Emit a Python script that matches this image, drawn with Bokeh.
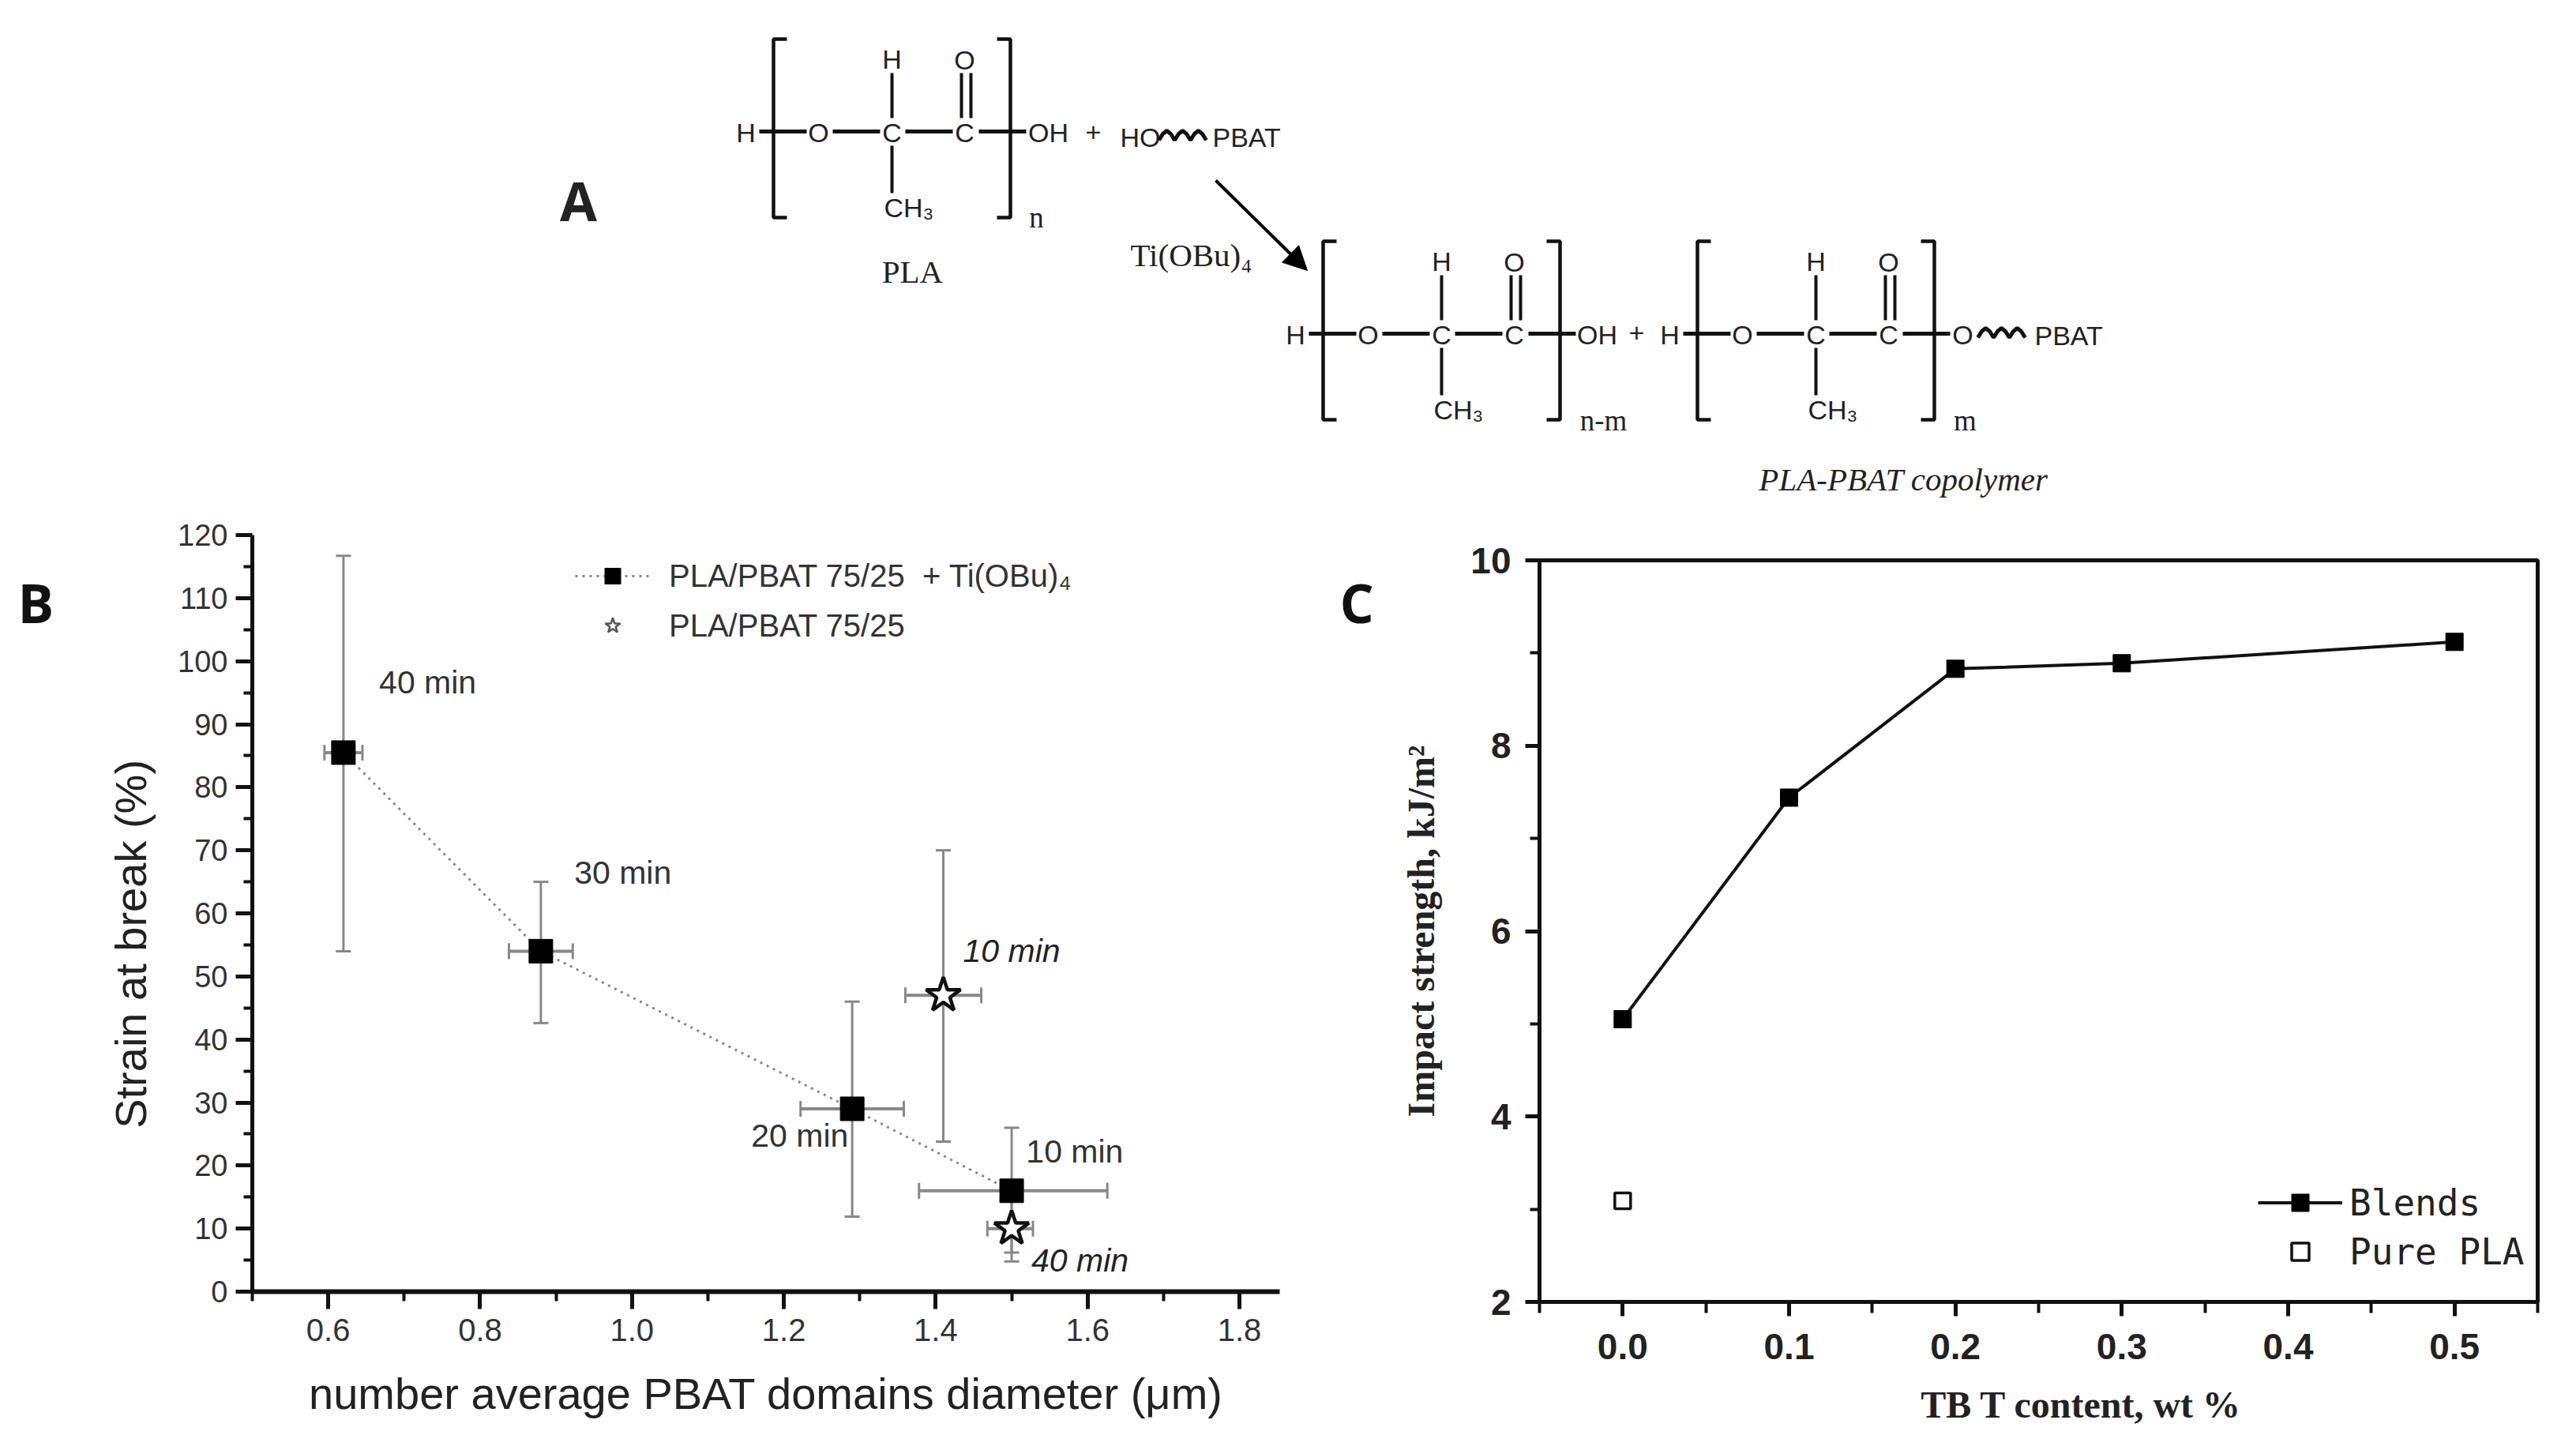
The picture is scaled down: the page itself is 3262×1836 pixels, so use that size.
from bokeh.core.properties import value
from bokeh.embed import file_html
from bokeh.layouts import column, row
from bokeh.models import Arrow, ColumnDataSource, FixedTicker, Legend, LegendItem, NormalHead, Range1d, TeeHead, Whisker
from bokeh.plotting import figure
from bokeh.resources import INLINE

# panel B
B_SQ_X = [0.62, 0.88, 1.29, 1.50]
B_SQ_Y = [85.5, 54.0, 29.0, 16.0]
B_SQ_Y_LOW = [54.0, 42.6, 11.9, 6.2]
B_SQ_Y_HIGH = [116.7, 65.0, 46.0, 26.0]
B_SQ_X_LOW = [0.595, 0.838, 1.222, 1.378]
B_SQ_X_HIGH = [0.645, 0.922, 1.358, 1.626]
B_SQ_LABELS = ["40 min", "30 min", "20 min", "10 min"]
B_SQ_LABEL_X = [0.667, 0.924, 1.157, 1.519]
B_SQ_LABEL_Y = [96.7, 66.4, 24.7, 22.2]

B_ST_X = [1.41, 1.50]
B_ST_Y = [47.0, 10.0]
B_ST_Y_LOW = [23.8, 4.8]
B_ST_Y_HIGH = [70.0, 15.0]
B_ST_X_LOW = [1.36, 1.468]
B_ST_X_HIGH = [1.46, 1.528]
B_ST_LABELS = ["10 min", "40 min"]
B_ST_LABEL_X = [1.436, 1.526]
B_ST_LABEL_Y = [54.1, 4.9]

B_X_TICKS = [0.6, 0.8, 1.0, 1.2, 1.4, 1.6, 1.8]
B_X_MINOR = [0.5, 0.7, 0.9, 1.1, 1.3, 1.5, 1.7]
B_Y_TICKS = list(range(0, 121, 10))
B_Y_MINOR = list(range(5, 120, 10))

# panel C
C_X = [0.0, 0.1, 0.2, 0.3, 0.5]
C_Y = [5.05, 7.44, 8.83, 8.89, 9.12]
C_PLA_X = [0.0]
C_PLA_Y = [3.09]
C_X_TICKS = [0.0, 0.1, 0.2, 0.3, 0.4, 0.5]
C_X_MINOR = [-0.05, 0.05, 0.15, 0.25, 0.35, 0.45, 0.55]
C_Y_TICKS = [2, 4, 6, 8, 10]
C_Y_MINOR = [3, 5, 7, 9]

# reaction scheme, drawn in picture pixels
WAVE_DX = [0, 5, 10, 15, 20, 25, 30, 35, 40, 45, 50, 55, 60]
WAVE_DY = [5, -3, -7, -3, 5, -3, -7, -3, 5, -3, -7, -3, 5]


def tick_labels(ticks):
    return {t: f"{t:.1f}" for t in ticks}


# ---------- scheme ----------
A = figure(width=3262, height=640, x_range=Range1d(0, 3262), y_range=Range1d(640, 0),
           x_axis_location=None, y_axis_location=None, toolbar_location=None,
           output_backend="svg", min_border=0, outline_line_color=None, frame_align=False)
A.grid.visible = False


def txt(x, y, s, size=34, font="Liberation Sans", style="normal", align="center"):
    A.text(x=[x], y=[y], text=[s], text_font=value(font), text_font_size=f"{size}px",
           text_font_style=style, text_align=align, text_baseline="middle", text_color="#222222")


def bond(xs, ys, width=4):
    A.line(x=xs, y=ys, line_color="#111111", line_width=width)


def bracket(x, top, bottom, tick):
    A.line(x=[x + tick, x, x, x + tick], y=[top, top, bottom, bottom], line_color="#111111", line_width=4.5)


def unit(dx, dy):
    """one PLA repeat unit, x of the first C sits at 1133+dx"""
    bond([965 + dx, 1025 + dx], [167 + dy, 167 + dy], 5)
    bond([1058 + dx, 1118 + dx], [167 + dy, 167 + dy], 5)
    bond([1150 + dx, 1210 + dx], [167 + dy, 167 + dy], 5)
    bond([1243 + dx, 1303 + dx], [167 + dy, 167 + dy], 5)
    bond([1133 + dx, 1133 + dx], [93 + dy, 150 + dy])
    bond([1133 + dx, 1133 + dx], [185 + dy, 245 + dy])
    bond([1221 + dx, 1221 + dx], [93 + dy, 150 + dy])
    bond([1233 + dx, 1233 + dx], [93 + dy, 150 + dy])
    bracket(983 + dx, 50 + dy, 276 + dy, 17)
    bracket(1283 + dx, 50 + dy, 276 + dy, -17)
    txt(1040 + dx, 168 + dy, "O")
    txt(1133 + dx, 168 + dy, "C")
    txt(1225 + dx, 168 + dy, "C")
    txt(1133 + dx, 75 + dy, "H")
    txt(1225 + dx, 76 + dy, "O")
    txt(1123 + dx, 263 + dy, "CH₃", align="left")
    txt(948 + dx, 168 + dy, "H")


def wave(x, y):
    A.line(x=[x + d for d in WAVE_DX], y=[y + d for d in WAVE_DY], line_color="#111111", line_width=5)


unit(-4, -1)
txt(1327, 167, "OH")
txt(1384, 167, "+")
txt(1418, 173, "HO", align="left")
wave(1467, 172)
txt(1535, 173, "PBAT", align="left")
txt(1312, 275, "n", 37, "Liberation Serif")
txt(1155, 343, "PLA", 41, "Liberation Serif")
txt(1431, 322, "Ti(OBu)₄", 41, "Liberation Serif", align="left")

A.add_layout(Arrow(end=NormalHead(size=30, fill_color="#000000", line_color="#000000"),
                   x_start=1539, y_start=228, x_end=1655, y_end=342,
                   line_color="#000000", line_width=4))

unit(692, 255)
txt(2022, 423, "OH")
txt(2072, 421, "+")
txt(2030, 532, "n-m", 37, "Liberation Serif")
unit(1166, 255)
txt(2485, 423, "O")
wave(2504, 422)
txt(2576, 424, "PBAT", align="left")
txt(2488, 532, "m", 37, "Liberation Serif")
txt(2410, 606, "PLA-PBAT copolymer", 41, "Liberation Serif", "italic")
txt(732, 253, "A", 68, "Open Sans", "bold")


def letter_strip(width, x0, letter, text_x):
    s = figure(width=width, height=1190, x_range=Range1d(x0, x0 + width), y_range=Range1d(1830, 640),
               x_axis_location=None, y_axis_location=None, toolbar_location=None,
               output_backend="svg", min_border=0, outline_line_color=None, frame_align=False)
    s.grid.visible = False
    s.text(x=[text_x], y=[762], text=[letter], text_font=value("Open Sans"), text_font_style="bold",
           text_font_size="68px", text_baseline="middle", text_color="#111111")
    return s


# ---------- panel B ----------
B = figure(width=1580, height=1190, x_range=Range1d(0.5, 1.853), y_range=Range1d(0, 120),
           toolbar_location=None, output_backend="svg", outline_line_color=None, frame_align=False,
           min_border_left=239, min_border_right=40, min_border_top=37, min_border_bottom=195)
B.grid.visible = False
B.xaxis.ticker = FixedTicker(ticks=B_X_TICKS, minor_ticks=B_X_MINOR)
B.yaxis.ticker = FixedTicker(ticks=B_Y_TICKS, minor_ticks=B_Y_MINOR)
B.xaxis.major_label_overrides = tick_labels(B_X_TICKS)
B.xaxis.axis_label = "number average PBAT domains diameter (μm)"
B.yaxis.axis_label = "Strain at break (%)" + "\u00a0" * 5
for ax, line_w in ((B.xaxis, 6), (B.yaxis, 5)):
    ax.axis_line_width = line_w
    ax.axis_line_color = "#111111"
    ax.major_tick_line_width = 5
    ax.minor_tick_line_width = 4
    ax.major_tick_line_color = "#111111"
    ax.minor_tick_line_color = "#111111"
    ax.major_tick_in = 0
    ax.minor_tick_in = 0
    ax.major_label_text_font = "Liberation Sans"
    ax.major_label_text_color = "#333333"
    ax.axis_label_text_font = "Liberation Sans"
    ax.axis_label_text_font_style = "normal"
    ax.axis_label_text_color = "#222222"
B.xaxis.major_label_text_font_size = "40px"
B.yaxis.major_label_text_font_size = "38px"
B.xaxis.axis_label_text_font_size = "56px"
B.yaxis.axis_label_text_font_size = "56px"
B.xaxis.major_tick_out = 22
B.xaxis.minor_tick_out = 12
B.yaxis.major_tick_out = 21
B.yaxis.minor_tick_out = 11
B.xaxis.major_label_standoff = 12
B.yaxis.major_label_standoff = 10
B.xaxis.axis_label_standoff = 32
B.yaxis.axis_label_standoff = 25

ERR = "#888888"


def add_errors(fig, x, y, x_low, x_high, y_low, y_high):
    src = ColumnDataSource(dict(x=x, y=y, xl=x_low, xh=x_high, yl=y_low, yh=y_high))
    fig.add_layout(Whisker(base="x", lower="yl", upper="yh", source=src, dimension="height",
                           line_color=ERR, line_width=3,
                           lower_head=TeeHead(size=19, line_color=ERR, line_width=3),
                           upper_head=TeeHead(size=19, line_color=ERR, line_width=3)))
    fig.add_layout(Whisker(base="y", lower="xl", upper="xh", source=src, dimension="width",
                           line_color=ERR, line_width=4,
                           lower_head=TeeHead(size=20, line_color=ERR, line_width=3),
                           upper_head=TeeHead(size=20, line_color=ERR, line_width=3)))


add_errors(B, B_SQ_X, B_SQ_Y, B_SQ_X_LOW, B_SQ_X_HIGH, B_SQ_Y_LOW, B_SQ_Y_HIGH)
add_errors(B, B_ST_X, B_ST_Y, B_ST_X_LOW, B_ST_X_HIGH, B_ST_Y_LOW, B_ST_Y_HIGH)

sq_line = B.line(B_SQ_X, B_SQ_Y, line_color="#888888", line_width=3, line_dash=[3, 6])
sq_pts = B.scatter(B_SQ_X, B_SQ_Y, marker="square", size=30, fill_color="black", line_color="black")
# thin small star for the legend key only, hidden under the big ones
st_key = B.scatter(B_ST_X, B_ST_Y, marker="star", size=8, fill_color="white", line_color="#555555", line_width=2.5)
B.scatter(B_ST_X, B_ST_Y, marker="star", size=46, fill_color="white", line_color="#111111", line_width=4.5)

B.text(B_SQ_LABEL_X, B_SQ_LABEL_Y, text=B_SQ_LABELS, text_font=value("Liberation Sans"), text_font_size="41px",
       text_baseline="middle", text_color="#333333")
B.text(B_ST_LABEL_X, B_ST_LABEL_Y, text=B_ST_LABELS, text_font=value("Liberation Sans"), text_font_size="41px",
       text_font_style="italic", text_baseline="middle", text_color="#222222")

B.add_layout(Legend(items=[LegendItem(label="PLA/PBAT 75/25  + Ti(OBu)₄", renderers=[sq_line, sq_pts]),
                           LegendItem(label="PLA/PBAT 75/25", renderers=[st_key])],
                    location=(409, 818), padding=0, margin=0, spacing=13, glyph_width=95, glyph_height=50,
                    label_standoff=24, label_text_font="Liberation Sans", label_text_font_size="40px",
                    label_text_color="#333333", border_line_color=None, background_fill_color=None))

# ---------- panel C ----------
C = figure(width=1492, height=1190, x_range=Range1d(-0.05, 0.55), y_range=Range1d(2, 10),
           toolbar_location=None, output_backend="svg", outline_line_color="#111111", outline_line_width=5,
           frame_align=False,
           min_border_left=178, min_border_right=49, min_border_top=69, min_border_bottom=182)
C.grid.visible = False
C.xaxis.ticker = FixedTicker(ticks=C_X_TICKS, minor_ticks=C_X_MINOR)
C.yaxis.ticker = FixedTicker(ticks=C_Y_TICKS, minor_ticks=C_Y_MINOR)
C.xaxis.major_label_overrides = tick_labels(C_X_TICKS)
C.xaxis.axis_label = "\u00a0" * 9 + "TB T content, wt %"
C.yaxis.axis_label = "Impact strength, kJ/m²"
for ax in (C.xaxis, C.yaxis):
    ax.axis_line_width = 5
    ax.axis_line_color = "#111111"
    ax.major_tick_line_width = 5
    ax.minor_tick_line_width = 4
    ax.major_tick_line_color = "#111111"
    ax.minor_tick_line_color = "#111111"
    ax.major_tick_in = 0
    ax.minor_tick_in = 0
    ax.major_label_text_font = "Liberation Sans"
    ax.major_label_text_font_style = "bold"
    ax.major_label_text_font_size = "46px"
    ax.major_label_text_color = "#222222"
    ax.axis_label_text_font = "Liberation Serif"
    ax.axis_label_text_font_style = "bold"
    ax.axis_label_text_color = "#222222"
C.xaxis.axis_label_text_font_size = "48px"
C.yaxis.axis_label_text_font_size = "48px"
C.xaxis.major_tick_out = 18
C.xaxis.minor_tick_out = 14
C.yaxis.major_tick_out = 18
C.yaxis.minor_tick_out = 12
C.xaxis.major_label_standoff = 22
C.yaxis.major_label_standoff = 18
C.xaxis.axis_label_standoff = 28
C.yaxis.axis_label_standoff = 33

bl_line = C.line(C_X, C_Y, line_color="#111111", line_width=4)
bl_pts = C.scatter(C_X, C_Y, marker="square", size=22, fill_color="black", line_color="black")
pla_pts = C.scatter(C_PLA_X, C_PLA_Y, marker="square", size=20, fill_color="white", line_color="#111111", line_width=3.5)

C.add_layout(Legend(items=[LegendItem(label="Blends", renderers=[bl_line, bl_pts]),
                           LegendItem(label="Pure PLA", renderers=[pla_pts])],
                    location=(910, 36), padding=0, margin=0, spacing=7, glyph_width=107, glyph_height=55,
                    label_standoff=9, label_text_font="DejaVu Sans Mono", label_text_font_size="46px",
                    label_text_color="#222222", border_line_color=None, background_fill_color=None))

page = column(A, row(letter_strip(80, 0, "B", 22), B, letter_strip(110, 1660, "C", 1696), C, spacing=0), spacing=0)
open("out.html", "w").write(file_html(page, INLINE))
